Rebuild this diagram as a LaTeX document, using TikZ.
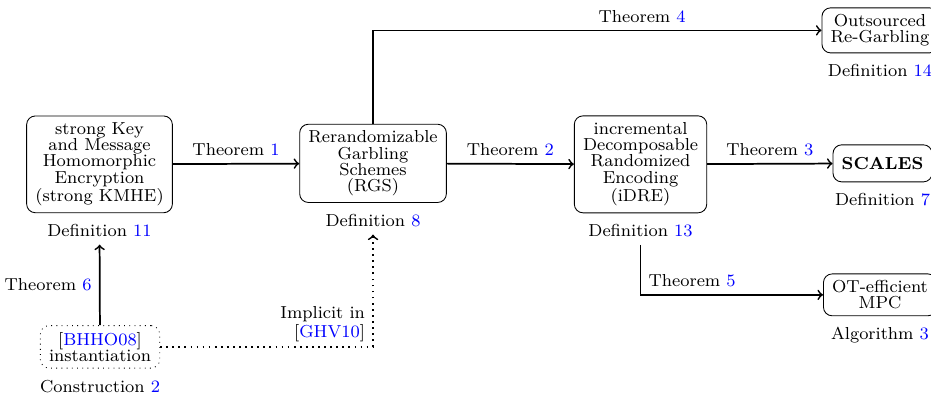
\documentclass[tikz,border=0pt]{standalone}
\usepackage{tikz}
\usetikzlibrary{positioning}
\newcommand{\nref}[1]{\textcolor{blue}{#1}}

\begin{document}
\begin{tikzpicture}[font=\fontsize{8}{7.5}\selectfont, node distance=0.6mm,
		block/.style={draw, rounded corners, align=center, inner xsep=4pt, inner ysep=3pt},
		link/.style={->, thick}]
		\useasboundingbox (0,0) rectangle (15.08,6.38);
		\node[block] (1) at (1.612,3.718) {strong Key\\and Message\\Homomorphic\\Encryption\\(strong KMHE)};
		\node[below=of 1] (d1) {Definition \nref{11}};
		\node[block] (2) at (6.042,3.734) {Rerandomizable\\Garbling\\Schemes\\(RGS)};
		\node[below=of 2] (d2) {Definition \nref{8}};
		\node[block] (3) at (10.375,3.718) {incremental\\Decomposable\\Randomized\\Encoding\\(iDRE)};
		\node[below=of 3] (d3) {Definition \nref{13}};
		\node[block, minimum height=0.6cm] (4) at (14.295,3.734) {\textbf{SCALES}};
		\node[below=of 4] (d4) {Definition \nref{7}};
		\node[block] (5) at (14.254,5.888) {Outsourced\\Re-Garbling};
		\node[below=of 5] (d5) {Definition \nref{14}};
		\node[block] (6) at (14.254,1.604) {OT-efficient\\MPC};
		\node[below=of 6] (d6) {Algorithm \nref{3}};
		\node[block, dotted] (7) at (1.62,0.762) {{[}\nref{BHHO08}{]}\\instantiation};
		\node[below=of 7] (d7) {Construction \nref{2}};

		\draw[link] (1) -- node[above] {Theorem \nref{1}} (2);
		\draw[link] (2) -- node[above] {Theorem \nref{2}} (3);
		\draw[link] (3) -- node[above] {Theorem \nref{3}} (4);
		\draw[link] (2.north) |- node[above, pos=0.8] {Theorem \nref{4}} (5);
		\draw[link] (d3) |- node[above right, pos=0.5] {Theorem \nref{5}} (6);
		\draw[link] (7) -- node[left] {Theorem \nref{6}} (d1);
		\draw[link, dotted] (7) -| node[left, pos=0.6, align=right] {Implicit in\\{[}\nref{GHV10}{]}} (d2);
		\end{tikzpicture}
\end{document}
